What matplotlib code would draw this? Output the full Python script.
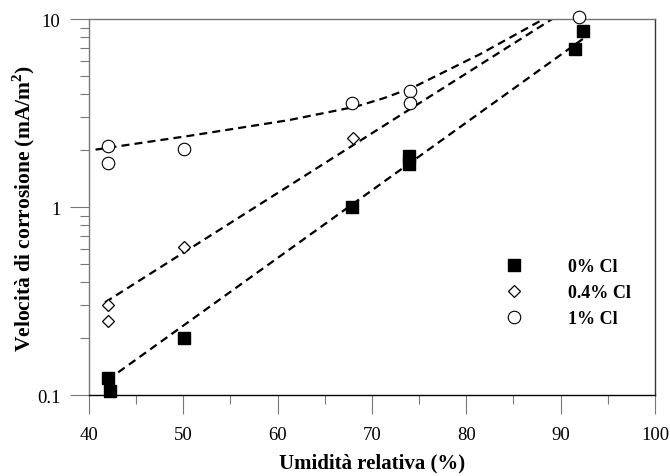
import numpy as np
import matplotlib
matplotlib.use('Agg')
import matplotlib.pyplot as plt
from matplotlib.ticker import FixedLocator, NullFormatter

plt.rcParams['font.family'] = ['Liberation Serif', 'DejaVu Serif']
plt.rcParams['mathtext.fontset'] = 'custom'
plt.rcParams['mathtext.rm'] = 'Liberation Serif'
plt.rcParams['mathtext.bf'] = 'Liberation Serif:bold'

# --- dati ---
x_0 = [42.0, 42.2, 50.1, 67.9, 73.9, 73.9, 91.5, 92.4]
y_0 = [0.123, 0.105, 0.201, 1.0, 1.87, 1.69, 6.9, 8.6]

x_04 = [42.0, 42.0, 50.1, 68.0]
y_04 = [0.30, 0.249, 0.61, 2.32]

x_1 = [42.0, 42.0, 50.1, 67.85, 74.0, 74.0, 91.9]
y_1 = [2.12, 1.71, 2.04, 3.56, 4.14, 3.59, 10.3]

# linee di tendenza
fit_0_x = [43.1, 92.6]
fit_0_y = [0.132, 8.0]
fit_04_x = [41.7, 89.1]
fit_04_y = [0.311, 10.0]
fit_1_x = [40.7, 50.6, 61.2, 68.3, 71.3, 74.4, 81.5, 88.2]
fit_1_y = [2.02, 2.39, 2.90, 3.42, 3.80, 4.34, 6.52, 10.0]

labels = ['0% Cl', '0.4% Cl', '1% Cl']

fig = plt.figure(figsize=(6.7, 4.77), dpi=100)
ax = fig.add_axes([0.1328, 0.1698, 0.8448, 0.7882])

dash = dict(color='black', lw=1.6, dashes=(3.6, 2.3))
ax.plot(fit_0_x, fit_0_y, **dash)
ax.plot(fit_04_x, fit_04_y, **dash)
ax.plot(fit_1_x, fit_1_y, **dash)

ax.plot(x_0, y_0, ls='none', marker='s', ms=9, mfc='black', mec='black',
        label=labels[0], clip_on=False, zorder=3)
ax.plot(x_04, y_04, ls='none', marker='D', ms=6.5, mfc='white', mec='black',
        mew=0.9, label=labels[1], clip_on=False, zorder=3)
ax.plot(x_1, y_1, ls='none', marker='o', ms=9, mfc='white', mec='black',
        mew=0.8, label=labels[2], clip_on=False, zorder=3)

ax.set_yscale('log')
ax.set_xlim(40, 100)
ax.set_ylim(0.1, 10)

ax.set_xticks(np.arange(40, 101, 10))
ax.xaxis.set_minor_locator(FixedLocator(np.arange(45, 100, 10)))
ax.set_yticks([0.1, 1, 10])
ax.set_yticklabels(['0.1', '1', '10'])
ax.yaxis.set_minor_locator(FixedLocator(
    [m * d for d in (0.1, 1) for m in range(2, 10)]))
ax.yaxis.set_minor_formatter(NullFormatter())

ax.tick_params(which='major', direction='out', length=13.5, width=0.8,
               color='#777777', labelsize=13.5)
ax.tick_params(which='minor', direction='out', length=6.8, width=0.8,
               color='#777777')
ax.tick_params(axis='y', which='major', pad=7)
ax.tick_params(axis='x', which='major', pad=9)

for side, col in [('left', '#777777'), ('top', '#777777'),
                  ('bottom', 'black'), ('right', '#333333')]:
    ax.spines[side].set_color(col)
    ax.spines[side].set_linewidth(1.0)

ax.set_xlabel('Umidità relativa (%)', fontsize=15, fontweight='bold', labelpad=7)
ax.set_ylabel(r'Velocità di corrosione (mA/m$^\mathbf{2}$)', fontsize=15.5,
              fontweight='bold', labelpad=0)

ax.legend(loc='upper left', bbox_to_anchor=(0.735, 0.364), frameon=False,
          prop={'weight': 'bold', 'size': 13}, handletextpad=2.5,
          labelspacing=0.5, borderpad=0, borderaxespad=0, handlelength=1.0)

fig.savefig('out.png', dpi=100)
